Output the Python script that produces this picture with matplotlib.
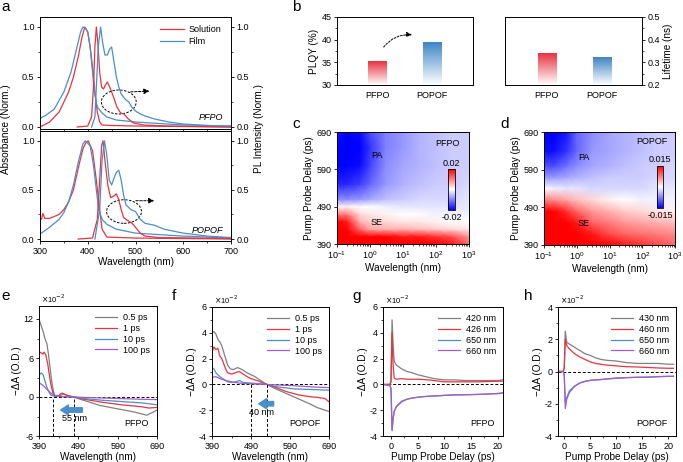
import numpy as np
import matplotlib
matplotlib.use("Agg")
import matplotlib.pyplot as plt
from matplotlib.colors import LinearSegmentedColormap
from matplotlib.patches import Ellipse
from matplotlib.ticker import AutoMinorLocator, MultipleLocator

plt.rcParams["font.family"] = ["Liberation Sans", "DejaVu Sans"]
plt.rcParams["font.size"] = 6.5
plt.rcParams["axes.unicode_minus"] = False
plt.rcParams["axes.linewidth"] = 0.7
plt.rcParams["xtick.major.width"] = 0.6
plt.rcParams["ytick.major.width"] = 0.6
plt.rcParams["xtick.minor.width"] = 0.5
plt.rcParams["ytick.minor.width"] = 0.5
plt.rcParams["xtick.major.size"] = 2.5
plt.rcParams["ytick.major.size"] = 2.5
plt.rcParams["xtick.minor.size"] = 1.5
plt.rcParams["ytick.minor.size"] = 1.5
plt.rcParams["xtick.labelsize"] = 6.5
plt.rcParams["ytick.labelsize"] = 6.5
plt.rcParams["xtick.major.pad"] = 1.5
plt.rcParams["ytick.major.pad"] = 1.5

RED = "#E8343F"
BLUE = "#4A8FCB"
GRAY = "#808080"
PURPLE = "#A55CC4"
LABEL_FS = 7.2

# ---------------- data: panel a ----------------
pfpo_sol_abs_wl = [300, 320, 340, 360, 370, 380, 388, 394, 400, 405, 410, 415, 420, 425, 430, 450, 500, 600, 700]
pfpo_sol_abs = [0.0, 0.05, 0.15, 0.35, 0.5, 0.7, 0.9, 1.0, 0.95, 0.8, 0.6, 0.35, 0.15, 0.05, 0.02, 0.015, 0.01, 0.005, 0.0]
pfpo_film_abs_wl = [300, 305, 310, 330, 350, 365, 375, 385, 390, 395, 400, 405, 410, 415, 420, 430, 440, 460, 500, 600, 700]
pfpo_film_abs = [0.08, 0.1, 0.11, 0.18, 0.35, 0.55, 0.75, 0.95, 1.0, 0.99, 0.95, 0.8, 0.55, 0.32, 0.2, 0.14, 0.1, 0.07, 0.05, 0.02, 0.01]
pfpo_sol_pl_wl = [378, 400, 408, 412, 415, 418, 421, 425, 429, 433, 437, 441, 446, 454, 461, 469, 476, 485, 496, 517, 566, 700]
pfpo_sol_pl = [0.0, 0.01, 0.1, 0.4, 0.8, 1.0, 0.85, 0.55, 0.4, 0.38, 0.42, 0.45, 0.4, 0.3, 0.2, 0.14, 0.13, 0.08, 0.04, 0.02, 0.01, 0.0]
pfpo_film_pl_wl = [408, 415, 418, 422, 427, 431, 436, 441, 446, 450, 455, 460, 465, 470, 475, 480, 486, 492, 500, 510, 520, 540, 570, 600, 650, 700]
pfpo_film_pl = [0.0, 0.1, 0.4, 0.8, 1.0, 0.85, 0.72, 0.72, 0.78, 0.8, 0.65, 0.5, 0.4, 0.33, 0.3, 0.27, 0.25, 0.2, 0.16, 0.13, 0.11, 0.08, 0.05, 0.03, 0.015, 0.01]

popof_sol_abs_wl = [300, 303, 306, 310, 320, 340, 350, 360, 370, 380, 390, 396, 401, 410, 418, 425, 430, 440, 500, 600, 700]
popof_sol_abs = [0.2, 0.2, 0.26, 0.21, 0.21, 0.25, 0.3, 0.38, 0.5, 0.72, 0.92, 0.98, 1.0, 0.9, 0.6, 0.3, 0.1, 0.02, 0.01, 0.005, 0.0]
popof_film_abs_wl = [300, 320, 340, 350, 360, 370, 380, 390, 395, 405, 412, 418, 423, 430, 440, 460, 500, 600, 700]
popof_film_abs = [0.05, 0.12, 0.2, 0.27, 0.38, 0.55, 0.78, 0.97, 1.0, 0.95, 0.75, 0.5, 0.3, 0.2, 0.15, 0.1, 0.06, 0.03, 0.01]
popof_sol_pl_wl = [380, 410, 420, 425, 429, 432, 436, 442, 448, 455, 460, 465, 470, 475, 480, 490, 495, 500, 510, 520, 550, 700]
popof_sol_pl = [0.0, 0.01, 0.2, 0.6, 0.95, 1.0, 0.8, 0.55, 0.42, 0.44, 0.46, 0.4, 0.3, 0.22, 0.2, 0.17, 0.15, 0.12, 0.06, 0.03, 0.015, 0.005]
popof_film_pl_wl = [415, 425, 430, 435, 440, 445, 450, 455, 460, 465, 470, 475, 480, 490, 500, 510, 520, 540, 560, 600, 650, 700]
popof_film_pl = [0.0, 0.3, 0.8, 1.0, 0.85, 0.6, 0.55, 0.62, 0.68, 0.7, 0.6, 0.45, 0.35, 0.3, 0.28, 0.2, 0.16, 0.14, 0.1, 0.06, 0.03, 0.015]

# ---------------- data: panel b ----------------
samples = ["PFPO", "POPOF"]
plqy = [35.2, 39.3]
lifetime = [0.34, 0.32]

# ---------------- data: panels c, d (heat maps) ----------------
map_x = [0.1, 0.2, 0.5, 1, 3, 10, 30, 100, 300, 1000]
pfpo_y = [390, 410, 430, 450, 470, 490, 510, 550, 600, 650, 690]
pfpo_map = np.array([
    [1.0, 1.0, 1.0, 1.0, 1.0, 1.0, 1.0, 1.0, 0.9, 0.6],
    [1.0, 1.0, 1.0, 1.0, 1.0, 0.9, 0.9, 0.8, 0.7, 0.4],
    [1.0, 1.0, 0.6, 0.35, 0.3, 0.3, 0.25, 0.2, 0.15, 0.1],
    [1.0, 0.9, 0.3, 0.2, 0.15, 0.1, 0.1, 0.05, 0.0, 0.0],
    [0.5, 0.5, 0.15, 0.1, 0.05, 0.0, 0.0, -0.05, -0.05, -0.05],
    [0.05, 0.05, 0.0, 0.0, -0.05, -0.1, -0.1, -0.1, -0.1, -0.1],
    [-0.45, -0.45, -0.4, -0.35, -0.25, -0.2, -0.15, -0.15, -0.15, -0.1],
    [-0.85, -0.85, -0.75, -0.6, -0.4, -0.3, -0.25, -0.2, -0.2, -0.15],
    [-1.0, -1.0, -0.95, -0.75, -0.45, -0.35, -0.3, -0.25, -0.2, -0.2],
    [-1.0, -1.0, -1.0, -0.8, -0.5, -0.4, -0.3, -0.25, -0.2, -0.2],
    [-0.9, -1.0, -0.95, -0.7, -0.5, -0.4, -0.3, -0.25, -0.2, -0.2],
]) * 0.02
popof_y = [390, 420, 450, 480, 510, 540, 570, 600, 640, 690]
popof_map = np.array([
    [1.0, 1.0, 1.0, 1.0, 1.0, 1.0, 0.9, 0.8, 0.7, 0.6],
    [1.0, 1.0, 1.0, 1.0, 0.9, 0.7, 0.6, 0.55, 0.5, 0.45],
    [1.0, 1.0, 1.0, 0.9, 0.6, 0.5, 0.4, 0.35, 0.3, 0.25],
    [1.0, 1.0, 0.8, 0.6, 0.4, 0.3, 0.2, 0.15, 0.1, 0.05],
    [0.5, 0.45, 0.35, 0.25, 0.15, 0.05, 0.0, -0.05, -0.05, -0.05],
    [0.0, -0.05, -0.1, -0.1, -0.15, -0.15, -0.15, -0.15, -0.1, -0.1],
    [-0.4, -0.4, -0.35, -0.3, -0.25, -0.2, -0.2, -0.2, -0.15, -0.15],
    [-0.7, -0.7, -0.55, -0.45, -0.35, -0.3, -0.25, -0.2, -0.2, -0.15],
    [-0.95, -0.95, -0.8, -0.6, -0.4, -0.35, -0.3, -0.25, -0.2, -0.2],
    [-1.0, -1.0, -0.9, -0.6, -0.45, -0.35, -0.3, -0.25, -0.2, -0.2],
]) * 0.015

# ---------------- data: panel e (x1e-2) ----------------
e_wl_gray = [390, 397, 401, 405, 410, 414, 418, 422, 427, 431, 444, 452, 460, 477, 503, 545, 588, 631, 664, 681, 690]
e_gray = [12.0, 10.7, 10.0, 9.0, 8.2, 6.6, 4.6, 2.5, 0.8, 0.1, 0.25, 0.5, 0.25, 0.0, -0.5, -1.3, -1.8, -2.3, -2.8, -2.3, -2.0]
e_wl_red = [390, 395, 400, 403, 407, 412, 416, 420, 425, 430, 440, 445, 450, 455, 465, 480, 500, 550, 600, 650, 670, 690]
e_red = [7.0, 6.8, 6.6, 6.9, 6.5, 5.2, 3.5, 2.0, 0.7, 0.1, 0.2, 0.5, 0.6, 0.4, 0.2, 0.0, -0.3, -0.8, -1.2, -1.5, -1.7, -1.6]
e_wl_blue = [390, 395, 400, 405, 410, 415, 420, 430, 450, 480, 500, 550, 600, 650, 690]
e_blue = [3.3, 3.7, 3.5, 2.5, 1.5, 0.8, 0.3, 0.1, 0.1, 0.0, -0.2, -0.5, -0.7, -0.9, -1.2]
e_wl_purple = [390, 400, 410, 420, 430, 450, 480, 500, 550, 600, 650, 690]
e_purple = [2.2, 1.8, 1.2, 0.6, 0.2, 0.05, 0.0, -0.05, -0.15, -0.25, -0.35, -0.4]

# ---------------- data: panel f (x1e-2) ----------------
f_wl_gray = [390, 395, 400, 405, 410, 415, 420, 425, 430, 437, 445, 455, 460, 470, 480, 490, 500, 510, 520, 530, 550, 580, 610, 640, 660, 680, 690]
f_gray = [4.0, 4.1, 3.9, 3.5, 3.3, 3.0, 2.5, 2.0, 1.5, 1.2, 1.15, 1.3, 1.25, 1.1, 0.9, 0.75, 0.6, 0.4, 0.2, 0.0, -0.3, -0.7, -1.1, -1.5, -1.8, -2.0, -2.1]
f_wl_red = [390, 395, 400, 405, 410, 415, 420, 425, 430, 440, 450, 460, 470, 480, 490, 500, 510, 520, 530, 550, 580, 610, 640, 660, 680, 690]
f_red = [2.5, 2.9, 2.7, 2.8, 2.2, 2.0, 1.6, 1.2, 0.9, 0.8, 0.9, 1.0, 0.8, 0.6, 0.45, 0.35, 0.25, 0.1, 0.0, -0.2, -0.55, -0.8, -0.95, -1.0, -1.1, -1.35]
f_wl_blue = [390, 395, 400, 410, 420, 430, 440, 450, 460, 470, 490, 510, 530, 560, 600, 650, 690]
f_blue = [1.3, 1.2, 0.9, 0.6, 0.4, 0.2, 0.15, 0.2, 0.3, 0.15, 0.1, 0.05, 0.0, -0.2, -0.35, -0.4, -0.45]
f_wl_purple = [390, 400, 410, 420, 440, 460, 490, 530, 560, 600, 650, 690]
f_purple = [0.55, 0.6, 0.45, 0.35, 0.2, 0.1, 0.05, 0.0, -0.05, -0.1, -0.2, -0.25]

# ---------------- data: panel g (x1e-2) ----------------
g_t = [-1.5, -0.2, 0.0, 0.2, 0.4, 0.6, 1, 2, 3, 4, 5, 6, 7, 8, 9, 10, 12, 14, 16, 18, 20, 21]
g_420 = [0.0, 0.0, 0.3, 5.0, 3.0, 1.8, 1.5, 1.2, 1.0, 0.9, 0.75, 0.65, 0.55, 0.45, 0.4, 0.35, 0.35, 0.3, 0.3, 0.3, 0.3, 0.35]
g_426 = [0.0, 0.0, 0.2, 4.0, 1.5, 0.5, 0.4, 0.45, 0.4, 0.4, 0.4, 0.38, 0.35, 0.3, 0.25, 0.2, 0.2, 0.2, 0.2, 0.22, 0.25, 0.25]
g_650 = [0.0, -0.1, -0.3, -3.5, -2.6, -2.1, -1.7, -1.3, -1.15, -1.05, -1.0, -0.95, -0.92, -0.9, -0.88, -0.85, -0.8, -0.8, -0.78, -0.75, -0.7, -0.65]
g_660 = [0.0, -0.1, -0.35, -3.6, -2.7, -2.1, -1.75, -1.35, -1.15, -1.05, -1.0, -0.95, -0.92, -0.9, -0.88, -0.85, -0.82, -0.8, -0.78, -0.75, -0.72, -0.68]

# ---------------- data: panel h (x1e-2) ----------------
h_t = [-1.2, -0.2, 0.0, 0.2, 0.5, 1, 2, 3, 4, 5, 6, 7, 8, 10, 11, 12, 14, 16, 18, 20, 21]
h_430 = [0.0, 0.0, 0.2, 2.5, 1.8, 1.7, 1.5, 1.3, 1.1, 1.0, 0.85, 0.75, 0.7, 0.65, 0.6, 0.55, 0.5, 0.5, 0.5, 0.45, 0.45]
h_460 = [0.0, 0.0, 0.2, 2.0, 1.6, 1.4, 1.1, 0.9, 0.75, 0.6, 0.5, 0.45, 0.4, 0.35, 0.32, 0.3, 0.28, 0.25, 0.22, 0.2, 0.2]
h_650 = [0.0, 0.0, -0.2, -1.9, -1.6, -1.2, -0.9, -0.7, -0.6, -0.55, -0.52, -0.5, -0.47, -0.4, -0.4, -0.38, -0.36, -0.35, -0.32, -0.3, -0.3]
h_660 = [0.0, 0.0, -0.2, -2.3, -1.7, -1.3, -0.92, -0.72, -0.62, -0.55, -0.52, -0.5, -0.47, -0.42, -0.4, -0.38, -0.36, -0.35, -0.32, -0.3, -0.3]

W, H = 683, 462
fig = plt.figure(figsize=(W / 100, H / 100), dpi=100)


def px_axes(x0, y0, x1, y1):
    return fig.add_axes([x0 / W, 1 - y1 / H, (x1 - x0) / W, (y1 - y0) / H])


def px_text(x, y, s, **kw):
    fig.text(x / W, 1 - y / H, s, **kw)


# ---------------- panel a ----------------
a_sets = [
    (px_axes(40, 17, 231, 129), pfpo_sol_abs_wl, pfpo_sol_abs, pfpo_film_abs_wl, pfpo_film_abs,
     pfpo_sol_pl_wl, pfpo_sol_pl, pfpo_film_pl_wl, pfpo_film_pl, "PFPO", (465, 0.25), (484, 0.35), (535, 0.36)),
    (px_axes(40, 131, 231, 241), popof_sol_abs_wl, popof_sol_abs, popof_film_abs_wl, popof_film_abs,
     popof_sol_pl_wl, popof_sol_pl, popof_film_pl_wl, popof_film_pl, "POPOF", (476, 0.28), (495, 0.39), (545, 0.39)),
]
for i, (ax, saw, sa, faw, fa, spw, sp, fpw, fp, name, ell, a0, a1) in enumerate(a_sets):
    ax.plot(saw, sa, color=RED, lw=0.9, label="Solution")
    ax.plot(faw, fa, color=BLUE, lw=0.9, label="Film")
    ax.plot(spw, sp, color=RED, lw=0.9)
    ax.plot(fpw, fp, color=BLUE, lw=0.9)
    ax.set_xlim(300, 700)
    ax.set_ylim(-0.02, 1.1)
    ax.set_yticks([0, 0.5, 1.0])
    ax.set_yticklabels(["0.0", "0.5", "1.0"])
    ax.yaxis.set_minor_locator(MultipleLocator(0.25))
    ax.xaxis.set_minor_locator(MultipleLocator(50))
    ax.tick_params(which="both", direction="out", right=True, labelright=True)
    ax.add_patch(Ellipse(ell, 73, 0.24, fill=False, ls=(0, (2.5, 1.5)), lw=0.7, color="k"))
    ax.annotate("", xy=a1, xytext=a0,
                arrowprops=dict(arrowstyle="-|>,head_length=0.5,head_width=0.25", ls=(0, (2.5, 1.5)), lw=0.7, color="k"))
    ax.text(0.96, 0.1, name, transform=ax.transAxes, ha="right", va="center", style="italic", fontsize=6.5)
    if i == 0:
        ax.tick_params(labelbottom=False)
        ax.legend(loc="upper right", bbox_to_anchor=(0.99, 1.0), frameon=False, fontsize=6.5,
                  handlelength=2.6, handletextpad=0.5, labelspacing=0.3)
    else:
        ax.set_xticks([300, 400, 500, 600, 700])
        ax.set_xlabel("Wavelength (nm)", fontsize=LABEL_FS, labelpad=1)
px_text(6, 129, "Absorbance (Norm.)", rotation=90, ha="center", va="center", fontsize=LABEL_FS)
px_text(259, 129, "PL Intensity (Norm.)", rotation=90, ha="center", va="center", fontsize=LABEL_FS)


# ---------------- panel b ----------------
def gradient_bars(ax, values, color, idx, bottom):
    cmap = LinearSegmentedColormap.from_list("g", ["#ffffff", color])
    grad = np.linspace(0, 1, 100).reshape(-1, 1)
    w = 0.33
    ax.imshow(grad, cmap=cmap, origin="lower", aspect="auto", vmin=0, vmax=1,
              extent=[idx - w / 2, idx + w / 2, bottom, values[idx]], zorder=2)


axb1 = px_axes(337, 17, 473, 85)
gradient_bars(axb1, plqy, "#E8343F", 0, 30)
gradient_bars(axb1, plqy, "#3F86C4", 1, 30)
axb1.set_xlim(-0.73, 1.75)
axb1.set_ylim(30, 45)
axb1.set_xticks([0, 1])
axb1.set_xticklabels(samples)
axb1.set_yticks([30, 35, 40, 45])
axb1.yaxis.set_minor_locator(MultipleLocator(2.5))
axb1.tick_params(axis="x", length=0, pad=4)
axb1.tick_params(axis="y", which="both", direction="out")
axb1.set_ylabel("PLQY (%)", fontsize=LABEL_FS, labelpad=2)
axb1.annotate("", xy=(0.69, 41.0), xytext=(0.09, 37.9),
              arrowprops=dict(arrowstyle="-|>,head_length=0.5,head_width=0.22", ls=(0, (2, 1.5)), lw=0.7, color="k",
                              connectionstyle="arc3,rad=-0.3"))

axb2 = px_axes(505, 17, 642, 85)
gradient_bars(axb2, lifetime, "#E8343F", 0, 0.2)
gradient_bars(axb2, lifetime, "#3F86C4", 1, 0.2)
axb2.set_xlim(-0.76, 1.73)
axb2.set_ylim(0.2, 0.5)
axb2.set_xticks([0, 1])
axb2.set_xticklabels(samples)
axb2.set_yticks([0.2, 0.3, 0.4, 0.5])
axb2.yaxis.set_minor_locator(MultipleLocator(0.05))
axb2.yaxis.tick_right()
axb2.yaxis.set_label_position("right")
axb2.tick_params(axis="x", length=0, pad=4)
axb2.tick_params(axis="y", which="both", direction="out")
axb2.set_ylabel("Lifetime (ns)", fontsize=LABEL_FS, labelpad=2)


# ---------------- panels c, d ----------------
def heat(ax, ymap, zmap, vmax, name, cbar_px, lab_px):
    X, Y = np.meshgrid(map_x, ymap)
    m = ax.pcolormesh(X, Y, zmap, cmap="bwr", vmin=-vmax, vmax=vmax, shading="gouraud", rasterized=True)
    ax.set_xscale("log")
    ax.set_xlim(0.1, 1000)
    ax.set_ylim(390, 690)
    ax.set_yticks([390, 490, 590, 690])
    ax.tick_params(which="both", direction="out")
    ax.set_xlabel("Wavelength (nm)", fontsize=LABEL_FS, labelpad=1)
    ax.set_ylabel("Pump Probe Delay (ps)", fontsize=LABEL_FS, labelpad=2)
    x0, y0, x1, y1 = cbar_px
    cax = px_axes(x0, y0, x1, y1)
    cb = fig.colorbar(m, cax=cax, ticks=[])
    cb.outline.set_linewidth(0.6)
    fmt = "%g" % vmax
    px_text((x0 + x1) / 2, y0 - 6, fmt, ha="center", va="center", fontsize=6.5)
    px_text((x0 + x1) / 2, y1 + 7, "-" + fmt, ha="center", va="center", fontsize=6.5)
    (nx, ny), (pax, pay), (sex, sey) = lab_px
    px_text(nx, ny, name, ha="center", va="center", fontsize=6.5)
    px_text(pax, pay, "PA", ha="center", va="center", fontsize=6.5)
    px_text(sex, sey, "SE", ha="center", va="center", fontsize=6.5)


axc = px_axes(337, 132, 469, 244)
heat(axc, pfpo_y, pfpo_map, 0.02, "PFPO", (448, 169, 455, 210), ((447, 143), (377, 155), (377, 223)))
axd = px_axes(544, 132, 675, 245)
heat(axd, popof_y, popof_map, 0.015, "POPOF", (657, 166, 663, 208), ((652, 142), (584, 157), (584, 224)))


# ---------------- panels e-h ----------------
def kinetic_axes(ax, curves, labels, xlim, ylim, yticks, name, xlabel):
    colors = [GRAY, RED, BLUE, PURPLE]
    for (x, y), lab, c in zip(curves, labels, colors):
        ax.plot(x, y, color=c, lw=0.9, label=lab)
    ax.axhline(0, color="k", ls=(0, (3, 2)), lw=0.7, zorder=0)
    ax.set_xlim(*xlim)
    ax.set_ylim(*ylim)
    ax.set_yticks(yticks)
    ax.yaxis.set_minor_locator(AutoMinorLocator(2))
    ax.xaxis.set_minor_locator(AutoMinorLocator(2))
    ax.tick_params(which="both", direction="out")
    ax.set_xlabel(xlabel, fontsize=LABEL_FS, labelpad=1)
    ax.set_ylabel("\u2212\u0394A (O.D.)", fontsize=LABEL_FS, labelpad=1)
    ax.legend(loc="upper right", bbox_to_anchor=(1.0, 1.0), frameon=False, fontsize=6.5,
              handlelength=2.5, handletextpad=0.6, labelspacing=0.2, borderaxespad=0.4)
    ax.text(0.93, 0.1, name, transform=ax.transAxes, ha="right", va="center", fontsize=6.5)
    ax.text(0.02, 1.01, r"$\times$10$^{-2}$", transform=ax.transAxes, ha="left", va="bottom", fontsize=5.5)


def shift_marks(ax, lines, arrow_from, arrow_to, y_arrow, label, x_label, y_label, bottom):
    for xv in lines:
        ax.plot([xv, xv], [bottom, 0], color="k", ls=(0, (3, 2)), lw=0.7)
    ax.annotate("", xy=(arrow_to, y_arrow), xytext=(arrow_from, y_arrow),
                arrowprops=dict(arrowstyle="simple,head_length=0.7,head_width=0.9,tail_width=0.4",
                                color=BLUE, mutation_scale=8, shrinkA=0, shrinkB=0))
    ax.text(x_label, y_label, label, ha="center", va="center", fontsize=6.5)


wl_labels = ["0.5 ps", "1 ps", "10 ps", "100 ps"]
axe = px_axes(39, 306, 157, 436)
kinetic_axes(axe, [(e_wl_gray, e_gray), (e_wl_red, e_red), (e_wl_blue, e_blue), (e_wl_purple, e_purple)],
             wl_labels, (390, 690), (-6, 14), [-6, 0, 6, 12], "PFPO", "Wavelength (nm)")
axe.set_xticks([390, 490, 590, 690])
shift_marks(axe, (425, 480), 500, 445, -2.0, "55 nm", 480, -3.3, -6)

axf = px_axes(212, 307, 329, 436)
kinetic_axes(axf, [(f_wl_gray, f_gray), (f_wl_red, f_red), (f_wl_blue, f_blue), (f_wl_purple, f_purple)],
             wl_labels, (390, 690), (-4, 6), [-4, -2, 0, 2, 4, 6], "POPOF", "Wavelength (nm)")
axf.set_xticks([390, 490, 590, 690])
shift_marks(axf, (490, 530), 548, 510, -1.5, "40 nm", 517, -2.2, -4)

axg = px_axes(383, 307, 503, 436)
kinetic_axes(axg, [(g_t, g_420), (g_t, g_426), (g_t, g_650), (g_t, g_660)],
             ["420 nm", "426 nm", "650 nm", "660 nm"], (-1.5, 21), (-4, 6), [-4, -2, 0, 2, 4, 6], "PFPO",
             "Pump Probe Delay (ps)")
axg.set_xticks([0, 5, 10, 15, 20])

axh = px_axes(558, 307, 676, 436)
kinetic_axes(axh, [(h_t, h_430), (h_t, h_460), (h_t, h_650), (h_t, h_660)],
             ["430 nm", "460 nm", "650 nm", "660 nm"], (-1.2, 21.5), (-4, 4), [-4, -2, 0, 2, 4], "POPOF",
             "Pump Probe Delay (ps)")
axh.set_xticks([0, 5, 10, 15, 20])

# panel letters
for lab, x, y in [("a", 1, 0), ("b", 292, 0), ("c", 292, 117), ("d", 500, 117),
                  ("e", 1, 289), ("f", 172, 289), ("g", 352, 289), ("h", 524, 289)]:
    px_text(x, y, lab, ha="left", va="top", fontsize=11)

fig.savefig("out.png", dpi=100)
